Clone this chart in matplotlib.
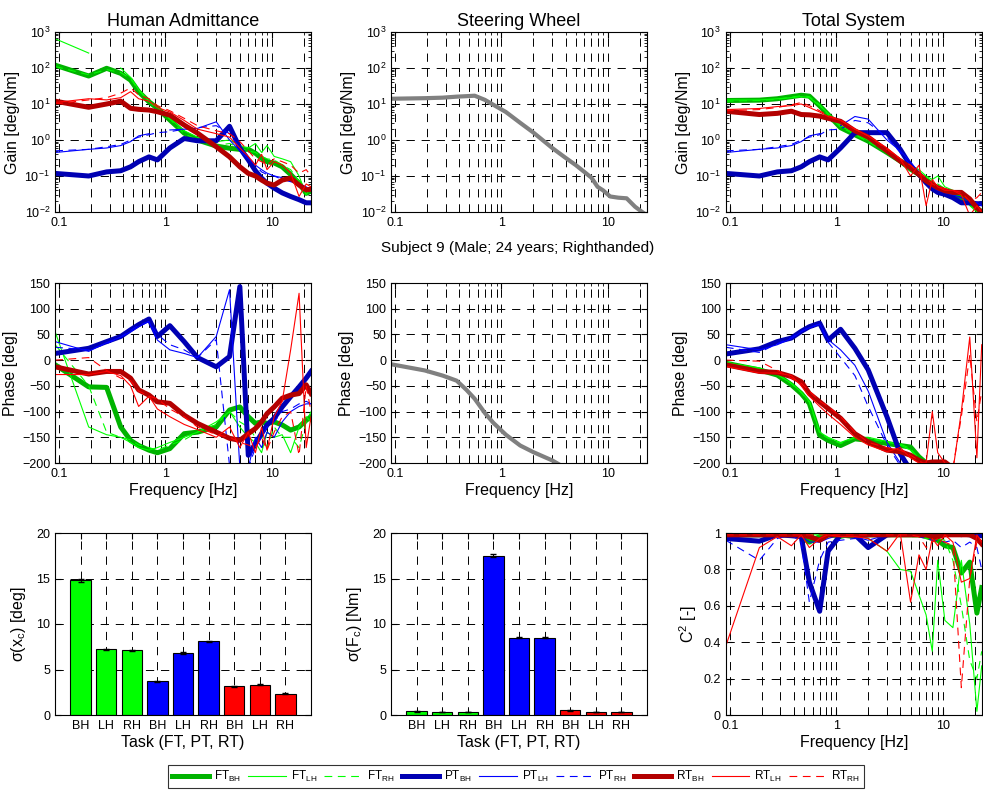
import numpy as np
import matplotlib
matplotlib.use("Agg")
import matplotlib.pyplot as plt
from matplotlib.ticker import LogLocator, NullFormatter, FixedLocator

plt.rcParams['font.family'] = ['Liberation Sans', 'DejaVu Sans']
plt.rcParams['mathtext.fontset'] = 'custom'
plt.rcParams['mathtext.rm'] = 'Liberation Sans'
plt.rcParams['mathtext.it'] = 'Liberation Sans:italic'

nan = np.nan
# ---------------- data ----------------
freq = [0.092, 0.19, 0.28, 0.38, 0.47, 0.56, 0.70, 0.84, 1.1, 1.5, 2.0, 3.0,
        4.0, 5.0, 6.0, 7.0, 8.0, 9.0, 10.5, 12.5, 15.0, 18.0, 21.0, 23.3]

series_names = ['FT_BH', 'FT_LH', 'FT_RH', 'PT_BH', 'PT_LH', 'PT_RH', 'RT_BH', 'RT_LH', 'RT_RH']

# Human admittance gain
ha_gain_FT_BH = [120, 60, 98, 71, 46, 22, 11.5, 7.6, 3.6, 1.55, 1.0, 0.68, 0.59, 0.55, 0.55, 0.43, 0.31, 0.25, 0.23, 0.18, 0.11, 0.063, 0.033, 0.038]
ha_gain_FT_LH = [650, 260, nan, 100, 55, 25, 12, 8, 4, 1.8, 1.2, 0.9, 1.0, 0.7, 0.6, 0.8, 0.45, 0.7, 0.35, 0.3, 0.25, 0.1, 0.03, 0.05]
ha_gain_FT_RH = [110, 65, 90, 75, 50, 24, 12, 7, 3.8, 1.5, 1.0, 0.7, 0.8, 0.6, 0.5, 0.45, 0.35, 0.3, 0.28, 0.2, 0.15, 0.07, 0.04, 0.045]
ha_gain_PT_BH = [0.118, 0.10, 0.13, 0.14, 0.18, 0.25, 0.34, 0.28, 0.6, 1.1, 0.95, 0.95, 2.4, 0.6, 0.28, 0.14, 0.087, 0.063, 0.046, 0.034, 0.027, 0.022, 0.018, 0.018]
ha_gain_PT_LH = [0.45, 0.55, 0.6, 0.7, 0.9, 1.3, 1.5, nan, 1.9, 2.0, 2.1, 3.2, 1.0, 0.5, 0.3, 0.2, 0.15, 0.12, 0.1, 0.09, 0.07, 0.06, 0.05, 0.04]
ha_gain_PT_RH = [0.5, 0.55, 0.65, 0.75, 1.0, 1.2, 1.4, 1.6, 1.7, 2.0, 2.2, 2.5, 1.5, 0.6, 0.35, 0.2, 0.13, 0.11, 0.1, 0.08, 0.07, 0.06, 0.05, 0.04]
ha_gain_RT_BH = [12, 8.1, 10, 12, 7.6, 7.1, 6.8, 6.1, 4.9, 2.6, 1.55, 0.65, 0.34, 0.18, 0.118, 0.1, 0.077, 0.063, 0.056, 0.077, 0.087, 0.056, 0.041, 0.043]
ha_gain_RT_LH = [11, 14, 13, 15, 22, 14, 12, 8, 6, 3.5, 2.0, 1.5, 1.2, 0.6, 0.35, 0.2, 0.4, 0.15, 0.25, 0.2, 0.12, 0.027, 0.06, 0.05]
ha_gain_RT_RH = [10, 13, 15, 20, 28, 18, 14, 9, 6.5, 4, 2.5, 1.8, 1.5, 0.9, 0.5, 0.3, 0.25, 0.2, 0.3, 0.25, 0.2, 0.12, 0.15, 0.1]

# Total system gain
ts_gain_FT_BH = [12.5, 12.8, 14, 16, 17.5, 16.5, 8.9, 5.1, 2.2, 1.4, 0.93, 0.45, 0.26, 0.155, 0.11, 0.08, 0.058, 0.047, 0.039, 0.031, 0.025, 0.018, 0.013, 0.0098]
ts_gain_FT_LH = [13, 13, 14, 15, 16, 15, 9, 5.5, 2.5, 1.5, 1.0, 0.5, 0.3, 0.2, 0.15, 0.1, 0.08, 0.1, 0.05, 0.04, 0.035, 0.015, 0.01, 0.012]
ts_gain_FT_RH = [12, 12.5, 13.5, 15.5, 17, 16, 9.5, 5, 2.3, 1.4, 0.9, 0.45, 0.3, 0.18, 0.12, 0.09, 0.07, 0.06, 0.045, 0.035, 0.03, 0.02, 0.012, 0.011]
ts_gain_PT_BH = [0.118, 0.10, 0.13, 0.14, 0.18, 0.25, 0.34, 0.28, 0.6, 1.6, 1.6, 1.6, 0.55, 0.19, 0.11, 0.065, 0.044, 0.035, 0.031, 0.025, 0.018, 0.018, 0.017, 0.017]
ts_gain_PT_LH = [0.45, 0.55, 0.6, 0.7, 0.9, 1.3, 1.5, nan, 2.5, 4.5, 3.8, 1.0, 0.5, 0.25, 0.12, 0.08, 0.05, 0.04, 0.035, 0.03, 0.025, 0.02, 0.018, 0.015]
ts_gain_PT_RH = [0.5, 0.55, 0.65, 0.75, 1.0, 1.2, 1.4, 1.9, 2.0, 3.5, 3.0, 1.2, 0.45, 0.2, 0.1, 0.07, 0.05, 0.04, 0.035, 0.03, 0.025, 0.02, 0.018, 0.016]
ts_gain_RT_BH = [6.3, 5.1, 5.5, 6.3, 5.1, 5.0, 4.6, 4.0, 3.3, 1.8, 1.2, 0.5, 0.26, 0.17, 0.11, 0.073, 0.058, 0.047, 0.039, 0.035, 0.035, 0.023, 0.013, 0.0098]
ts_gain_RT_LH = [7, 7.5, 8.5, 9, 10, 8, 6, 4.5, 3.5, 2.0, 1.3, 0.6, 0.3, 0.1, 0.2, 0.015, 0.08, 0.05, 0.04, 0.04, 0.03, 0.008, 0.015, 0.01]
ts_gain_RT_RH = [6.5, 7, 8, 9.5, 11, 9, 6.5, 4.8, 3.6, 2.0, 1.3, 0.55, 0.3, 0.2, 0.12, 0.09, 0.06, 0.05, 0.045, 0.04, 0.035, 0.02, 0.025, 0.035]

# Steering wheel
sw_gain = [14, 14.5, 15, 16, 16.5, 17, 13, 9.5, 6, 3, 1.6, 0.6, 0.32, 0.2, 0.13, 0.09, 0.05, 0.04, 0.027, 0.025, 0.024, 0.014, 0.01, 0.008]
sw_phase = [-8, -20, -30, -40, -58, -75, -103, -122, -145, -166, -179, -195, -210, -220, -230, -238, -245, -252, -260, -268, -276, -285, -292, -298]

# Human admittance phase
ha_ph_FT_BH = [-9, -52, -53, -130, -156, -166, -175, -180, -172, -143, -140, -130, -97, -91, -110, -123, -120, -123, -120, -126, -136, -130, -117, -110]
ha_ph_FT_LH = [55, -130, -145, -150, -160, -170, -175, -170, -160, -150, -140, -120, -100, -130, -150, -160, -180, -140, -150, -145, -180, -130, -110, -120]
ha_ph_FT_RH = [30, -50, -140, -150, -155, -165, -170, -175, -165, -155, -140, -125, -100, -120, -130, -150, -145, -170, -130, -150, -150, -170, -120, -100]
ha_ph_PT_BH = [13, 23, 36, 46, 59, 69, 80, 46, 67, 36, 5, -13, 7, 143, -185, -162, -143, -126, -113, -91, -71, -52, -35, -22]
ha_ph_PT_LH = [36, 17, 34, 45, 55, 65, 75, 39, 20, 13, 5, 46, 137, -210, -210, -150, -170, -140, -150, -120, -100, -90, -85, -85]
ha_ph_PT_RH = [25, 20, 32, 45, 58, 68, 75, 50, 30, 20, 5, 40, -205, -210, -210, -170, -150, -130, -120, -100, -95, -85, -80, -85]
ha_ph_RT_BH = [-13, -27, -22, -22, -35, -58, -68, -81, -84, -107, -123, -140, -152, -156, -143, -133, -120, -104, -91, -74, -68, -65, -48, -65]
ha_ph_RT_LH = [-28, -28, -22, -30, -50, -90, -70, -95, -110, -125, -135, -150, -130, -170, -140, -180, -130, -175, -110, -80, 20, 130, -170, -110]
ha_ph_RT_RH = [0, 5, -20, -35, -40, -60, -70, -75, -95, -110, -130, -145, -150, -160, -165, -170, -150, -175, -140, -110, -100, -185, -50, -100]

# Total system phase
ts_ph_FT_BH = [-6, -19, -29, -48, -65, -84, -146, -156, -166, -153, -156, -162, -166, -169, -188, -200, -210, -215, -220, -225, -230, -235, -240, -245]
ts_ph_FT_LH = [-5, -15, -28, -45, -62, -80, -140, -150, -160, -150, -150, -158, -165, -175, -195, -205, -212, -218, -222, -228, -232, -238, -242, -248]
ts_ph_FT_RH = [-4, -17, -27, -46, -63, -82, -142, -152, -162, -151, -152, -160, -163, -172, -192, -203, -211, -216, -221, -226, -231, -236, -241, -246]
ts_ph_PT_BH = [12, 22, 36, 43, 56, 65, 72, 39, 60, 23, -19, -110, -182, -214, -230, -240, -250, -260, -270, -280, -290, -300, -310, -320]
ts_ph_PT_LH = [30, 20, 30, 42, 55, 63, 70, 40, 20, -10, -60, -160, -200, -215, -230, -240, -250, -260, -270, -280, -290, -300, -310, -320]
ts_ph_PT_RH = [25, 15, 32, 44, 56, 64, 70, 35, 5, -30, -90, -165, -205, -218, -230, -240, -250, -260, -270, -280, -290, -300, -310, -320]
ts_ph_RT_BH = [-9, -22, -24, -32, -42, -65, -81, -94, -113, -143, -159, -175, -178, -185, -195, -200, -198, -198, -198, -210, -220, -230, -240, -250]
ts_ph_RT_LH = [-12, -25, -25, -30, -50, -70, -90, -105, -125, -150, -165, -178, -170, -190, -200, -200, -100, -180, -200, -215, -100, 45, -190, 30]
ts_ph_RT_RH = [0, -2, -20, -35, -45, -60, -80, -90, -110, -140, -160, -170, -175, -185, -195, -205, -210, -200, -215, -210, -110, 10, -120, -60]

# Coherence
coh_FT_BH = [0.99, 0.99, 0.99, 0.99, 0.98, 0.95, 0.98, 0.99, 0.99, 0.98, 0.99, 0.99, 0.99, 0.99, 0.99, 0.98, 0.97, 0.96, 0.93, 0.92, 0.78, 0.84, 0.56, 0.70]
coh_FT_LH = [1.0, 0.99, 0.99, 1.0, 0.99, 0.99, 0.99, 0.98, 0.97, 0.99, 0.97, 0.9, 0.8, 0.79, 0.66, 0.55, 0.35, 0.85, 0.52, 0.48, 0.85, 0.5, 0.02, 0.27]
coh_FT_RH = [0.99, 0.99, 0.99, 0.99, 0.99, 0.98, 0.99, 0.99, 0.99, 0.99, 0.99, 0.99, 0.99, 0.98, 0.98, 0.97, 0.98, 0.97, 0.96, 0.85, 0.6, 0.3, 0.2, 0.35]
coh_PT_BH = [0.97, 0.955, 0.99, 0.985, 0.98, 0.73, 0.57, 0.9, 0.99, 0.99, 0.92, 0.99, 0.995, 0.995, 0.995, 0.995, 0.995, 0.995, 0.995, 0.995, 0.995, 0.99, 0.99, 0.985]
coh_PT_LH = [0.98, 0.98, 0.99, 0.99, 0.98, 0.95, 0.95, 0.97, 0.99, 0.98, 0.96, 0.99, 0.99, 0.99, 0.99, 0.99, 0.99, 0.98, 0.99, 0.99, 0.98, 0.99, 0.98, 0.95]
coh_PT_RH = [0.96, 0.85, 0.97, 0.99, 0.95, 0.62, 0.85, 0.95, 0.96, 0.97, 0.98, 0.99, 0.99, 0.99, 0.98, 0.97, 0.96, 0.96, 0.95, 0.96, 0.92, 0.95, 0.92, 0.8]
coh_RT_BH = [0.99, 0.99, 0.99, 0.99, 0.99, 0.98, 0.96, 0.99, 0.99, 0.99, 0.99, 0.99, 0.99, 0.99, 0.99, 0.99, 0.98, 0.98, 0.99, 0.99, 0.99, 0.99, 0.97, 0.94]
coh_RT_LH = [0.38, 0.92, 0.98, 0.93, 0.99, 0.92, 0.97, 0.99, 0.98, 0.98, 0.97, 0.9, 1.0, 0.62, 0.88, 0.8, 0.97, 0.93, 0.99, 0.95, 0.73, 0.75, 0.99, 0.95]
coh_RT_RH = [0.99, 0.99, 0.99, 0.99, 0.99, 0.99, 0.99, 0.99, 0.99, 0.99, 0.99, 0.99, 0.99, 0.99, 0.98, 0.92, 0.95, 0.97, 0.95, 0.93, 0.15, 0.75, 0.95, 0.97]

# Bars
bar_labels = ['BH', 'LH', 'RH', 'BH', 'LH', 'RH', 'BH', 'LH', 'RH']
sigma_xc = [14.8, 7.2, 7.1, 3.7, 6.8, 8.1, 3.15, 3.35, 2.35]
sigma_xc_err = [0.15, 0.08, 0.08, 0.08, 0.08, 0.08, 0.08, 0.08, 0.06]
sigma_Fc = [0.4, 0.3, 0.3, 17.5, 8.5, 8.5, 0.5, 0.3, 0.3]
sigma_Fc_err = [0.03, 0.02, 0.02, 0.15, 0.08, 0.08, 0.03, 0.02, 0.02]

# ---------------- styles ----------------
DASH = (0, (7, 5))
styles = {
    'FT_BH': dict(color=(0, 0.7, 0), lw=3.6, ls='-'),
    'FT_LH': dict(color=(0, 1, 0), lw=0.8, ls='-'),
    'FT_RH': dict(color=(0, 1, 0), lw=0.8, ls=DASH),
    'PT_BH': dict(color=(0, 0, 0.7), lw=3.6, ls='-'),
    'PT_LH': dict(color=(0, 0, 1), lw=0.8, ls='-'),
    'PT_RH': dict(color=(0, 0, 1), lw=0.8, ls=DASH),
    'RT_BH': dict(color=(0.7, 0, 0), lw=3.6, ls='-'),
    'RT_LH': dict(color=(1, 0, 0), lw=0.8, ls='-'),
    'RT_RH': dict(color=(1, 0, 0), lw=0.8, ls=DASH),
}
labels = {n: r'%s$_{\mathrm{%s}}$' % tuple(n.split('_')) for n in series_names}

g = globals()
ha_gain = {n: g['ha_gain_' + n] for n in series_names}
ts_gain = {n: g['ts_gain_' + n] for n in series_names}
ha_ph = {n: g['ha_ph_' + n] for n in series_names}
ts_ph = {n: g['ts_ph_' + n] for n in series_names}
coh = {n: g['coh_' + n] for n in series_names}

XLIM = (0.0917, 23.3)
GRID = dict(color='black', lw=0.7, ls=(0, (8.5, 7)))
TICKFS = 9
LABFS = 11.5

fig = plt.figure(figsize=(9.83, 7.94), dpi=100)

lefts = [55 / 983, 391 / 983, 725.7 / 983]
W = 256 / 983
bottoms = [1 - 212 / 794, 1 - 463 / 794, 1 - 715 / 794]
H = 180 / 794
H3 = 182 / 794


def style_log_x(ax, xlabel=True):
    ax.set_xscale('log')
    ax.set_xlim(*XLIM)
    ax.xaxis.set_major_locator(FixedLocator([0.1, 1, 10]))
    ax.set_xticklabels(['0.1', '1', '10'])
    ax.xaxis.set_minor_locator(LogLocator(base=10, subs=np.arange(2, 10)))
    ax.xaxis.set_minor_formatter(NullFormatter())
    ax.grid(True, which='major', axis='both', **GRID)
    ax.grid(True, which='minor', axis='x', **GRID)
    ax.tick_params(which='both', direction='in', top=True, right=True, labelsize=TICKFS)
    ax.tick_params(which='major', length=4)
    ax.tick_params(which='minor', length=2)
    if xlabel:
        ax.set_xlabel('Frequency [Hz]', fontsize=LABFS, labelpad=2)
    for s in ax.spines.values():
        s.set_linewidth(0.8)
    ax.set_axisbelow(True)


def style_gain(ax):
    ax.set_yscale('log')
    ax.set_ylim(1e-2, 1e3)
    ax.yaxis.set_major_locator(FixedLocator([1e-2, 1e-1, 1e0, 1e1, 1e2, 1e3]))
    ax.set_yticklabels([r'$10^{-2}$', r'$10^{-1}$', r'$10^{0}$', r'$10^{1}$', r'$10^{2}$', r'$10^{3}$'])
    ax.yaxis.set_minor_locator(LogLocator(base=10, subs=np.arange(2, 10)))
    ax.yaxis.set_minor_formatter(NullFormatter())
    ax.set_ylabel('Gain [deg/Nm]', fontsize=LABFS, labelpad=3)


def style_phase(ax):
    ax.set_ylim(-200, 150)
    ax.set_yticks(np.arange(-200, 151, 50))
    ax.set_ylabel('Phase [deg]', fontsize=LABFS, labelpad=3)


handles = {}

# Row 1
ax = fig.add_axes([lefts[0], bottoms[0], W, H])
for n in series_names:
    handles[n], = ax.plot(freq, ha_gain[n], **styles[n])
style_log_x(ax, xlabel=False)
style_gain(ax)
ax.set_title('Human Admittance', fontsize=13, pad=4)

ax = fig.add_axes([lefts[1], bottoms[0], W, H])
ax.plot(freq, sw_gain, color=(0.5, 0.5, 0.5), lw=3)
style_log_x(ax, xlabel=False)
style_gain(ax)
ax.set_title('Steering Wheel', fontsize=13, pad=4)

ax = fig.add_axes([lefts[2], bottoms[0], W, H])
for n in series_names:
    ax.plot(freq, ts_gain[n], **styles[n])
style_log_x(ax, xlabel=False)
style_gain(ax)
ax.set_title('Total System', fontsize=13, pad=4)

# Row 2
ax = fig.add_axes([lefts[0], bottoms[1], W, H])
for n in series_names:
    ax.plot(freq, ha_ph[n], **styles[n])
style_log_x(ax)
style_phase(ax)

ax = fig.add_axes([lefts[1], bottoms[1], W, H])
ax.plot(freq, sw_phase, color=(0.5, 0.5, 0.5), lw=3)
style_log_x(ax)
style_phase(ax)

ax = fig.add_axes([lefts[2], bottoms[1], W, H])
for n in series_names:
    ax.plot(freq, ts_ph[n], **styles[n])
style_log_x(ax)
style_phase(ax)

# Row 3 bars
bar_colors = [(0, 1, 0)] * 3 + [(0, 0, 1)] * 3 + [(1, 0, 0)] * 3
xpos = np.arange(1, 10)


def bar_panel(ax, vals, errs, ylabel):
    ax.bar(xpos, vals, width=0.8, color=bar_colors, edgecolor='black', linewidth=0.8, zorder=2)
    ax.errorbar(xpos, vals, yerr=errs, fmt='none', ecolor='black', elinewidth=0.8, capsize=2, zorder=3)
    ax.set_xlim(0, 10)
    ax.set_ylim(0, 20)
    ax.set_yticks([0, 5, 10, 15, 20])
    ax.set_xticks(xpos)
    ax.set_xticklabels(bar_labels)
    ax.grid(True, axis='both', **GRID)
    ax.set_axisbelow(True)
    ax.tick_params(direction='in', top=True, right=True, labelsize=TICKFS, length=4)
    ax.set_xlabel('Task (FT, PT, RT)', fontsize=LABFS, labelpad=2)
    ax.set_ylabel(ylabel, fontsize=LABFS, labelpad=6)
    for s in ax.spines.values():
        s.set_linewidth(0.8)


ax = fig.add_axes([lefts[0], bottoms[2], W, H3])
bar_panel(ax, sigma_xc, sigma_xc_err, 'σ(x$_{\\mathrm{c}}$) [deg]')

ax = fig.add_axes([lefts[1], bottoms[2], W, H3])
bar_panel(ax, sigma_Fc, sigma_Fc_err, 'σ(F$_{\\mathrm{c}}$) [Nm]')

ax = fig.add_axes([lefts[2], bottoms[2], W, H3])
for n in series_names:
    ax.plot(freq, coh[n], **styles[n])
style_log_x(ax)
ax.set_ylim(0, 1)
ax.set_yticks([0, 0.2, 0.4, 0.6, 0.8, 1])
ax.set_yticklabels(['0', '0.2', '0.4', '0.6', '0.8', '1'])
ax.set_ylabel(r'C$^{2}$ [-]', fontsize=LABFS, labelpad=3)

fig.text(518 / 983, 1 - 248 / 794, 'Subject 9 (Male; 24 years; Righthanded)', ha='center', va='center', fontsize=11)

leg = fig.legend([handles[n] for n in series_names], [labels[n] for n in series_names],
                 loc='center', bbox_to_anchor=(516 / 983, 1 - 776.5 / 794), ncol=9,
                 fontsize=8.5, frameon=True, fancybox=False, edgecolor='black',
                 handlelength=3.2, handletextpad=0.4, columnspacing=0.6, borderpad=0.35)
leg.get_frame().set_linewidth(0.8)

fig.savefig('out.png', dpi=100)
